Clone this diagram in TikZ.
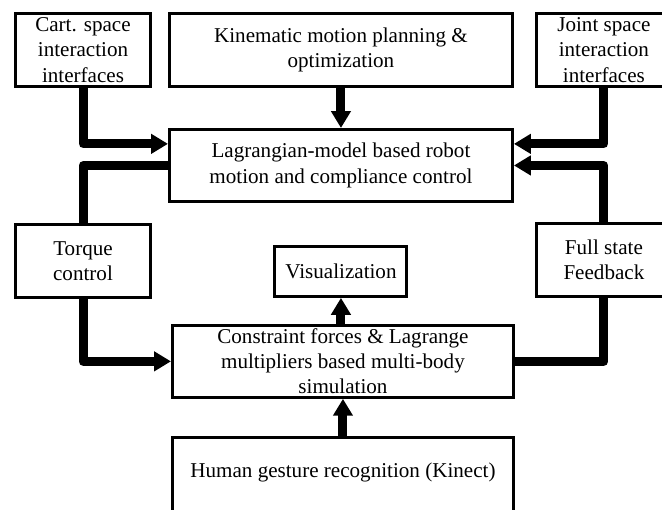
\documentclass[tikz,border=0pt]{standalone}
\usepackage{fontspec}
\setmainfont{Liberation Serif}
\usetikzlibrary{arrows.meta,positioning,calc}

\begin{document}
\begin{tikzpicture}[node distance=1cm, auto]

% Define styles
\tikzstyle{smallbox} = [rectangle, minimum width=3.375cm, minimum height=1.825cm, inner sep=1pt, align=center, draw=black, fill=white, line width=2.1pt, font=\fontsize{15}{18}\selectfont]
\tikzstyle{widebox} = [smallbox, minimum width=8.575cm]
\tikzstyle{simbox} = [smallbox, minimum width=8.525cm, minimum height=1.8cm]
\tikzstyle{arrow} = [line width=6.4pt, line join=round, -{Triangle[length=12pt, width=13.5pt]}]
\tikzstyle{line} = [line width=6.4pt, line join=round]

\useasboundingbox (0,0) rectangle (16.55,-12.725);

% Top row
\node (cart) [smallbox] at (2.075,-1.25) {Cart. space\\interaction\\interfaces};
\node (kin) [widebox, right=0.4cm of cart] {Kinematic motion planning \&\\optimization};
\node (joint) [smallbox, right=0.525cm of kin] {Joint space\\interaction\\interfaces};

% Controller
\node (lag) [widebox, minimum height=1.8cm, below=1.0cm of kin] {Lagrangian-model based robot\\motion and compliance control};

% Middle row
\node (torque) [smallbox, below=3.375cm of cart] {Torque\\control};
\node (vis) [smallbox, minimum width=3.3cm, minimum height=1.25cm, below=1.05cm of lag] {Visualization};
\node (full) [smallbox, below=3.35cm of joint] {Full state\\Feedback};

% Simulation and input (input box runs off the bottom edge)
\node (cons) [simbox, below=0.65cm of vis, xshift=0.05cm] {Constraint forces \& Lagrange\\multipliers based multi-body\\simulation};
\node (human) [simbox, minimum height=1.9cm, text depth=8pt, below=0.925cm of cons] {Human gesture recognition (Kinect)};

% Connections
\draw [arrow] (cart.south) |- ([yshift=0.54cm]lag.west);
\draw [arrow] (kin) -- (lag);
\draw [arrow] (joint.south) |- ([yshift=0.54cm]lag.east);
\draw [line] (lag.west) -| (torque.north);
\draw [arrow] (full.north) |- (lag.east);
\draw [arrow] (torque.south) |- (cons.west);
\draw [line] (cons.east) -| (full.south);
\draw [arrow] (vis.south |- cons.north) -- (vis.south);
\draw [arrow] (human) -- (cons);

\end{tikzpicture}
\end{document}
